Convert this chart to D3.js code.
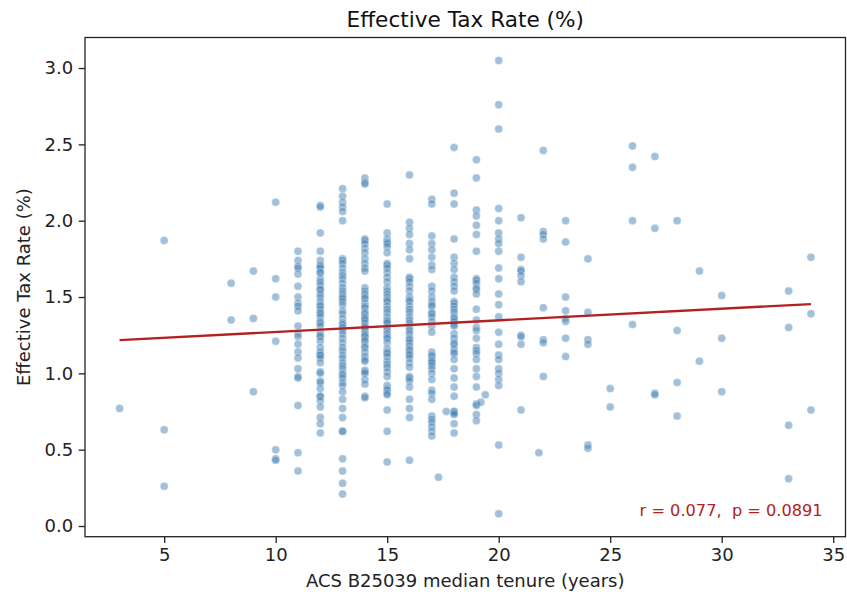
<!DOCTYPE html>
<html>
<head>
<meta charset="utf-8">
<script src="https://cdn.jsdelivr.net/npm/d3@7"></script>
<style>
  html, body { margin: 0; padding: 0; background: #fff; }
  svg { display: block; font-family: "DejaVu Sans", sans-serif; }
</style>
</head>
<body>
<svg id="chart" width="847" height="594"></svg>
<script>
// Median tenure (years) for each column of tracts
const tenureYears = [3, 5, 8, 9, 10, 11, 12, 13, 14, 15, 16, 17, 18, 19, 20, 21, 22, 23, 24, 25, 26, 27, 28, 29, 30, 33, 34];

// Effective tax rate (%) of the tracts in each tenure column
const taxRatesByTenure = [
  [0.77],
  [1.87, 0.63, 0.26],
  [1.59, 1.35],
  [1.67, 1.36, 0.88],
  [2.12, 1.62, 1.50, 1.21, 0.50, 0.44, 0.43],
  [1.80, 1.74, 1.70, 1.69, 1.65, 1.57, 1.50, 1.46, 1.44, 1.41, 1.31, 1.26, 1.24, 1.19, 1.14, 1.10, 1.03, 0.98, 0.97, 0.79, 0.48, 0.36],
  [2.10, 2.09, 1.92, 1.80, 1.74, 1.71, 1.70, 1.69, 1.66, 1.66, 1.62, 1.60, 1.58, 1.55, 1.55, 1.52, 1.50, 1.47, 1.45, 1.44, 1.42, 1.40, 1.39, 1.37, 1.34, 1.33, 1.31, 1.27, 1.25, 1.24, 1.21, 1.17, 1.14, 1.12, 1.12, 1.10, 1.07, 1.01, 1.00, 0.95, 0.94, 0.90, 0.85, 0.85, 0.82, 0.78, 0.71, 0.67, 0.61],
  [2.21, 2.16, 2.12, 2.09, 2.06, 2.00, 1.75, 1.74, 1.72, 1.69, 1.66, 1.64, 1.62, 1.59, 1.56, 1.54, 1.52, 1.50, 1.49, 1.47, 1.45, 1.41, 1.39, 1.36, 1.33, 1.32, 1.30, 1.28, 1.26, 1.23, 1.20, 1.17, 1.15, 1.12, 1.10, 1.07, 1.05, 1.03, 1.00, 0.99, 0.97, 0.94, 0.92, 0.88, 0.83, 0.77, 0.71, 0.62, 0.62, 0.44, 0.36, 0.28, 0.21],
  [2.28, 2.25, 2.24, 1.88, 1.87, 1.85, 1.82, 1.79, 1.75, 1.72, 1.69, 1.67, 1.56, 1.54, 1.52, 1.50, 1.49, 1.46, 1.44, 1.43, 1.40, 1.39, 1.37, 1.36, 1.35, 1.33, 1.31, 1.30, 1.28, 1.26, 1.25, 1.24, 1.22, 1.21, 1.18, 1.17, 1.14, 1.11, 1.09, 1.08, 1.02, 1.01, 1.00, 0.96, 0.93, 0.85, 0.84],
  [2.11, 1.92, 1.88, 1.86, 1.85, 1.83, 1.79, 1.72, 1.71, 1.69, 1.66, 1.63, 1.60, 1.56, 1.54, 1.52, 1.50, 1.48, 1.47, 1.44, 1.42, 1.40, 1.37, 1.35, 1.34, 1.33, 1.30, 1.28, 1.26, 1.24, 1.23, 1.20, 1.16, 1.14, 1.13, 1.11, 1.08, 1.06, 1.04, 1.01, 0.98, 0.92, 0.90, 0.89, 0.87, 0.86, 0.76, 0.62, 0.42],
  [2.30, 1.99, 1.95, 1.91, 1.85, 1.81, 1.75, 1.63, 1.62, 1.60, 1.57, 1.54, 1.50, 1.48, 1.47, 1.44, 1.42, 1.40, 1.37, 1.35, 1.33, 1.30, 1.28, 1.26, 1.23, 1.22, 1.20, 1.18, 1.16, 1.15, 1.13, 1.12, 1.10, 1.07, 1.04, 0.98, 0.97, 0.95, 0.91, 0.83, 0.77, 0.71, 0.43],
  [2.14, 2.11, 1.90, 1.85, 1.81, 1.76, 1.71, 1.68, 1.57, 1.54, 1.50, 1.47, 1.45, 1.44, 1.40, 1.39, 1.37, 1.34, 1.31, 1.27, 1.14, 1.12, 1.11, 1.09, 1.08, 1.07, 1.05, 1.03, 1.00, 0.96, 0.89, 0.87, 0.83, 0.72, 0.70, 0.68, 0.65, 0.62, 0.59],
  [2.48, 2.18, 2.11, 1.88, 1.76, 1.72, 1.68, 1.63, 1.60, 1.57, 1.54, 1.47, 1.46, 1.44, 1.42, 1.40, 1.37, 1.36, 1.34, 1.32, 1.31, 1.26, 1.23, 1.20, 1.19, 1.16, 1.14, 1.13, 1.09, 1.03, 0.97, 0.91, 0.85, 0.75, 0.75, 0.74, 0.73, 0.67, 0.61],
  [2.40, 2.28, 2.07, 2.03, 1.97, 1.91, 1.80, 1.62, 1.61, 1.59, 1.56, 1.55, 1.52, 1.42, 1.35, 1.30, 1.28, 1.23, 1.17, 1.15, 1.13, 1.09, 1.03, 0.98, 0.91, 0.80, 0.79, 0.73, 0.69],
  [3.05, 2.76, 2.60, 2.08, 2.00, 1.92, 1.88, 1.85, 1.80, 1.69, 1.62, 1.52, 1.45, 1.37, 1.27, 1.19, 1.12, 1.09, 1.03, 1.00, 0.96, 0.92, 0.53, 0.08],
  [2.02, 1.76, 1.68, 1.67, 1.64, 1.60, 1.25, 1.24, 1.19, 0.76],
  [2.46, 1.93, 1.91, 1.88, 1.43, 1.22, 1.20, 0.98],
  [2.00, 1.86, 1.50, 1.41, 1.36, 1.34, 1.23, 1.11],
  [1.75, 1.40, 1.22, 1.19, 0.53, 0.51],
  [0.90, 0.78],
  [2.49, 2.35, 2.00, 1.32],
  [2.42, 1.95, 0.87, 0.86],
  [2.00, 1.28, 0.94, 0.72],
  [1.67, 1.08],
  [1.51, 1.23, 0.88],
  [1.54, 1.30, 0.66, 0.31],
  [1.76, 1.39, 0.76]
];

// Tracts whose median tenure falls between whole years
const fractionalTenure = [17.3, 17.65, 19.2, 19.4, 21.8];
const fractionalRates = [0.32, 0.75, 0.81, 0.86, 0.48];

// Least-squares fit shown on the chart and its statistics
const fitIntercept = 1.195;
const fitSlope = 0.00761;
const statsLabel = "r = 0.077,  p = 0.0891";

const xTicks = [5, 10, 15, 20, 25, 30, 35];
const yTicks = [0.0, 0.5, 1.0, 1.5, 2.0, 2.5, 3.0];

const chartTitle = "Effective Tax Rate (%)";
const xTitle = "ACS B25039 median tenure (years)";
const yTitle = "Effective Tax Rate (%)";

// ---------------------------------------------------------------
const points = [];
tenureYears.forEach((t, i) => taxRatesByTenure[i].forEach(r => points.push({ t, r })));
fractionalTenure.forEach((t, i) => points.push({ t, r: fractionalRates[i] }));

const plot = { left: 85, right: 845.5, top: 37.5, bottom: 536.7 };

const tExt = d3.extent(points, d => d.t);
const tPad = (tExt[1] - tExt[0]) * 0.05;
const x = d3.scaleLinear().domain([tExt[0] - tPad, tExt[1] + tPad]).range([plot.left, plot.right]);
const y = d3.scaleLinear().domain([-0.07, 3.2]).range([plot.bottom, plot.top]);

const svg = d3.select("#chart");
svg.append("rect").attr("width", 847).attr("height", 594).attr("fill", "#fff");

const clip = svg.append("defs").append("clipPath").attr("id", "plotclip");
clip.append("rect").attr("x", plot.left).attr("y", plot.top)
  .attr("width", plot.right - plot.left).attr("height", plot.bottom - plot.top);

// scatter
svg.append("g").attr("clip-path", "url(#plotclip)")
  .selectAll("circle").data(points).join("circle")
  .attr("cx", d => x(d.t))
  .attr("cy", d => y(d.r))
  .attr("r", 4)
  .attr("fill", "steelblue")
  .attr("fill-opacity", 0.5)
  .attr("stroke", "#fff")
  .attr("stroke-opacity", 0.5)
  .attr("stroke-width", 0.6);

// regression line across the observed tenure range
const fitLine = tExt.map(t => ({ t, r: fitIntercept + fitSlope * t }));
svg.append("path")
  .datum(fitLine)
  .attr("d", d3.line().x(d => x(d.t)).y(d => y(d.r)))
  .attr("fill", "none")
  .attr("stroke", "#b22222")
  .attr("stroke-width", 2.4);

// axes
const xAxis = svg.append("g")
  .attr("transform", `translate(0,${plot.bottom})`)
  .call(d3.axisBottom(x).tickValues(xTicks).tickFormat(d3.format("d")).tickSize(6.3).tickPadding(5.5));
const yAxis = svg.append("g")
  .attr("transform", `translate(${plot.left},0)`)
  .call(d3.axisLeft(y).tickValues(yTicks).tickFormat(d3.format(".1f")).tickSize(6.3).tickPadding(5.5));

[xAxis, yAxis].forEach(g => {
  g.select(".domain").remove();
  g.selectAll(".tick line").attr("stroke", "#222").attr("stroke-width", 1.3);
  g.selectAll(".tick text").attr("fill", "#222").style("font-size", "18px").style("font-family", "DejaVu Sans, sans-serif");
});

// frame
svg.append("rect")
  .attr("x", plot.left).attr("y", plot.top)
  .attr("width", plot.right - plot.left).attr("height", plot.bottom - plot.top)
  .attr("fill", "none").attr("stroke", "#222").attr("stroke-width", 1.3);

// titles
svg.append("text")
  .attr("x", (plot.left + plot.right) / 2).attr("y", 26.5)
  .attr("text-anchor", "middle").attr("fill", "#111")
  .style("font-size", "21.6px")
  .text(chartTitle);

svg.append("text")
  .attr("x", (plot.left + plot.right) / 2).attr("y", 587)
  .attr("text-anchor", "middle").attr("fill", "#222")
  .style("font-size", "18px")
  .text(xTitle);

svg.append("text")
  .attr("transform", `translate(30,${(plot.top + plot.bottom) / 2}) rotate(-90)`)
  .attr("text-anchor", "middle").attr("fill", "#222")
  .style("font-size", "18px")
  .text(yTitle);

// correlation statistics (keeps the double space after the comma)
svg.append("text")
  .attr("x", plot.left + 0.97 * (plot.right - plot.left))
  .attr("y", 516)
  .attr("text-anchor", "end").attr("fill", "#b22222")
  .style("font-size", "16.2px")
  .style("white-space", "pre")
  .text(statsLabel);
</script>
</body>
</html>
